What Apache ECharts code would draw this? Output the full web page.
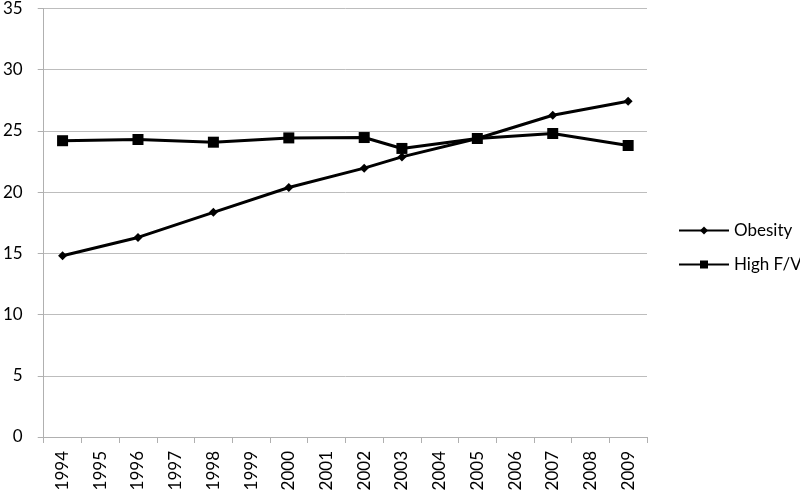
<!DOCTYPE html>
<html>
<head>
<meta charset="utf-8">
<script src="https://cdn.jsdelivr.net/npm/echarts@6/dist/echarts.min.js"></script>
<style>
  html, body { margin: 0; padding: 0; background: #fff; }
  #chart { width: 800px; height: 496px; }
</style>
</head>
<body>
<div id="chart"></div>
<script>
var years = ['1994','1995','1996','1997','1998','1999','2000','2001','2002','2003','2004','2005','2006','2007','2008','2009'];
// survey years only, gaps joined by the line
var obesity = [14.8, null, 16.3, null, 18.35, null, 20.38, null, 21.96, 22.88, null, 24.38, null, 26.28, null, 27.42];
var highFV = [24.2, null, 24.3, null, 24.08, null, 24.43, null, 24.46, 23.57, null, 24.38, null, 24.79, null, 23.81];
var yTicks = [0, 35, 5];

var font = 'Lato';
var chart = echarts.init(document.getElementById('chart'));

chart.setOption({
    animation: false,
    textStyle: { fontFamily: font },
    grid: { left: 43, right: 153, top: 8, bottom: 59 },
    legend: {
        orient: 'vertical',
        left: 673,
        top: 217,
        itemWidth: 50,
        itemHeight: 10,
        itemGap: 17,
        textStyle: { fontFamily: font, fontSize: 17, color: '#000' },
        data: ['Obesity', 'High F/V']
    },
    xAxis: {
        type: 'category',
        data: years,
        boundaryGap: true,
        axisLine: { lineStyle: { color: '#b0b0b0', width: 1 } },
        axisTick: { show: true, interval: 0, length: 6, lineStyle: { color: '#b0b0b0' } },
        axisLabel: { interval: 0, rotate: 90, margin: 14, fontSize: 17, color: '#000', fontFamily: font }
    },
    yAxis: {
        type: 'value',
        min: yTicks[0],
        max: yTicks[1],
        interval: yTicks[2],
        axisLine: { show: true, lineStyle: { color: '#b0b0b0', width: 1 } },
        axisTick: { show: true, length: 6, lineStyle: { color: '#b0b0b0' } },
        axisLabel: { margin: 21, fontSize: 17, color: '#000', fontFamily: font },
        splitLine: { lineStyle: { color: '#bdbdbd', width: 1 } }
    },
    series: [
        {
            name: 'Obesity',
            type: 'line',
            data: obesity,
            connectNulls: true,
            symbol: 'diamond',
            symbolSize: 9,
            itemStyle: { color: '#000' },
            lineStyle: { color: '#000', width: 3 }
        },
        {
            name: 'High F/V',
            type: 'line',
            data: highFV,
            connectNulls: true,
            symbol: 'rect',
            symbolSize: 11,
            itemStyle: { color: '#000' },
            lineStyle: { color: '#000', width: 3 }
        }
    ]
});
</script>
</body>
</html>
